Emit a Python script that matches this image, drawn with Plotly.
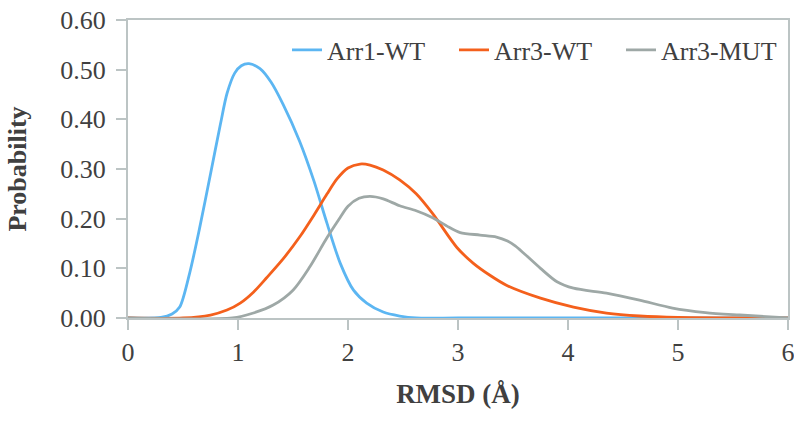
import plotly.graph_objects as go

# RMSD distributions
arr1_wt_x = [0, 0.3, 0.4, 0.47, 0.56, 0.65, 0.75, 0.84, 0.9, 0.97, 1.03, 1.1, 1.2, 1.3, 1.41,
             1.56, 1.69, 1.81, 1.93, 2.05, 2.17, 2.32, 2.47, 2.62, 3, 4, 5, 6]
arr1_wt_y = [0, 0.001, 0.008, 0.022, 0.09, 0.18, 0.29, 0.39, 0.452, 0.493, 0.508, 0.512, 0.502,
             0.475, 0.43, 0.356, 0.276, 0.19, 0.11, 0.056, 0.03, 0.012, 0.004, 0, 0, 0, 0, 0]

arr3_wt_x = [0, 0.5, 0.75, 0.9, 1.02, 1.14, 1.26, 1.41, 1.56, 1.69, 1.81, 1.9, 2.0, 2.11, 2.2,
             2.32, 2.47, 2.62, 2.77, 2.99, 3.14, 3.29, 3.44, 3.75, 4.05, 4.35, 4.65, 5.0, 6]
arr3_wt_y = [0, 0, 0.006, 0.016, 0.03, 0.052, 0.081, 0.119, 0.163, 0.207, 0.25, 0.28, 0.302,
             0.31, 0.308, 0.298, 0.278, 0.25, 0.21, 0.142, 0.11, 0.086, 0.066, 0.04, 0.022,
             0.01, 0.004, 0.001, 0]

arr3_mut_x = [0, 0.95, 1.14, 1.32, 1.5, 1.65, 1.81, 1.93, 2.0, 2.1, 2.2, 2.32, 2.47, 2.62,
              2.77, 2.9, 3.02, 3.2, 3.35, 3.45, 3.52, 3.59, 3.75, 3.9, 4.05, 4.35, 4.65, 4.95,
              5.25, 5.56, 6]
arr3_mut_y = [0, 0, 0.01, 0.026, 0.056, 0.102, 0.162, 0.203, 0.225, 0.241, 0.245, 0.24, 0.226,
              0.216, 0.202, 0.185, 0.172, 0.167, 0.163, 0.155, 0.145, 0.132, 0.10, 0.073, 0.06,
              0.05, 0.036, 0.02, 0.011, 0.006, 0]

series = [
    ('Arr1-WT', arr1_wt_x, arr1_wt_y, '#5cb6f2'),
    ('Arr3-WT', arr3_wt_x, arr3_wt_y, '#f4601c'),
    ('Arr3-MUT', arr3_mut_x, arr3_mut_y, '#9ea8a6'),
]

serif = 'Liberation Serif'
axis_col = '#bcc4c4'
text_col = '#404040'

fig = go.Figure()
for name, xs, ys, col in series:
    fig.add_trace(go.Scatter(x=xs, y=ys, mode='lines', name=name,
                             line=dict(color=col, width=2.8, shape='spline', smoothing=0.8)))

fig.update_layout(
    width=794, height=422,
    margin=dict(l=128, r=6, t=20, b=104),
    plot_bgcolor='white', paper_bgcolor='white',
    font=dict(family=serif, size=26, color=text_col),
    legend=dict(orientation='h', x=1, xanchor='right', y=0.978, yanchor='top',
                font=dict(size=26, family=serif, color=text_col),
                bgcolor='rgba(0,0,0,0)', itemwidth=30, entrywidth=122, tracegroupgap=0),
    xaxis=dict(range=[0, 6], dtick=1, showgrid=False, zeroline=False, automargin=False,
               showline=True, linecolor=axis_col, linewidth=2, mirror=True,
               ticks='outside', ticklen=10, tickcolor=axis_col, tickwidth=2,
               ticklabelstandoff=0, ticklabeloverflow='allow',
               title=dict(text='<b>RMSD (Å)</b>', font=dict(size=27), standoff=18)),
    yaxis=dict(range=[0, 0.6], dtick=0.1, tickformat='.2f', showgrid=False, zeroline=False,
               automargin=False,
               showline=True, linecolor=axis_col, linewidth=2, mirror=True,
               ticks='outside', ticklen=10, tickcolor=axis_col, tickwidth=2,
               ticklabelstandoff=5,
               title=dict(text='<b>Probability</b>', font=dict(size=26), standoff=26)),
)

# page body has an 8px default margin; drop it so the figure sits at 0,0
fig.write_html("out.html", config={'displayModeBar': False},
               post_script="document.body.style.margin='0';")
